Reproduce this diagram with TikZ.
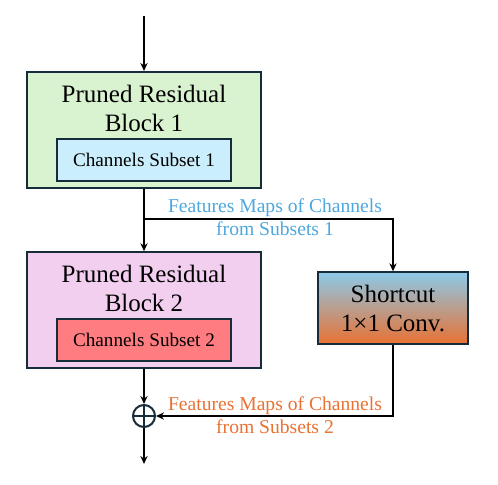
\documentclass[tikz,border=0pt]{standalone}
\usepackage{fontspec}
\setmainfont{Liberation Serif}
\usetikzlibrary{arrows.meta}

\definecolor{frame}{RGB}{22,44,58}
\definecolor{blockgreen}{RGB}{217,242,208}
\definecolor{blockpink}{RGB}{242,206,239}
\definecolor{subcyan}{RGB}{202,238,251}
\definecolor{subred}{RGB}{255,124,128}
\definecolor{featblue}{RGB}{78,167,222}
\definecolor{featorange}{RGB}{233,113,50}
\definecolor{scblue}{RGB}{140,201,232}

\tikzset{
  block/.style={draw=frame, line width=1pt, minimum width=117pt, minimum height=57.75pt, inner sep=0pt},
  subset/.style={draw=frame, line width=1pt, minimum width=87pt, minimum height=21pt, inner sep=0pt,
    font=\fontsize{9.6}{11}\selectfont},
  blocktitle/.style={align=center, inner sep=0pt, font=\fontsize{12.5}{14.5}\selectfont},
  arr/.style={-{Stealth[length=4pt,width=3.6pt]}, line width=0.75pt},
  featlbl/.style={align=center, inner sep=0pt, font=\fontsize{9.8}{11.5}\selectfont}
}

\begin{document}
\begin{tikzpicture}[x=0.5pt,y=-0.5pt]
  \useasboundingbox (0,0) rectangle (498,484);

  % first pruned block
  \node[block, fill=blockgreen] (b1) at (144,129.75) {};
  \node[blocktitle, anchor=base] (t1) at (144,131.5) {Pruned Residual\\Block 1};
  \node[subset, fill=subcyan] (s1) at (144,160.2) {Channels Subset 1};

  % second pruned block
  \node[block, fill=blockpink] (b2) at (144,310) {};
  \node[blocktitle, anchor=base] (t2) at (144,311.7) {Pruned Residual\\Block 2};
  \node[subset, fill=subred] (s2) at (144,340) {Channels Subset 2};

  % shortcut
  \node[draw=frame, line width=1pt, top color=scblue, bottom color=featorange, middle color=scblue!50!featorange,
        minimum width=75pt, minimum height=36pt, inner sep=0pt, blocktitle] (sc) at (393,308.3) {Shortcut\\1\texttimes1 Conv.};

  % addition
  \node[draw=frame, line width=1pt, circle, minimum size=11pt, inner sep=0pt] (add) at (144,416) {};
  \draw[frame, line width=0.8pt] (add.north) -- (add.south) (add.west) -- (add.east);

  \coordinate (in) at (144,15.7);
  \coordinate (split) at (144,219);
  \coordinate (out) at (144,464);

  \draw[arr] (in) -- (b1.north);
  \draw[arr] (b1.south) -- (b2.north);
  \draw[arr] (split) -| (sc.north);
  \draw[arr] (b2.south) -- (add.north);
  \draw[arr] (sc.south) |- (add.east);
  \draw[arr] (add.south) -- (out);

  \node[featlbl, text=featblue] (f1) at (275,217) {Features Maps of Channels\\from Subsets 1};
  \node[featlbl, text=featorange] (f2) at (275,415) {Features Maps of Channels\\from Subsets 2};
\end{tikzpicture}
\end{document}
